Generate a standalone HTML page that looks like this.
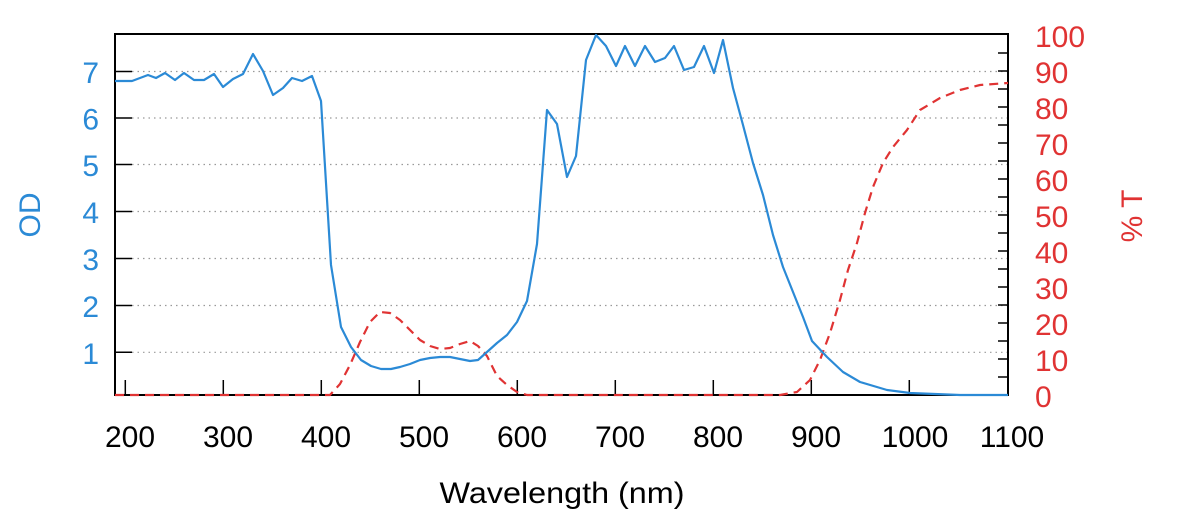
<!DOCTYPE html>
<html><head><meta charset="utf-8"><style>
html,body{margin:0;padding:0;background:#fff;}
svg{display:block;font-family:"Liberation Sans","DejaVu Sans",sans-serif;}
</style></head><body>
<svg width="1200" height="520" viewBox="0 0 1200 520" xmlns="http://www.w3.org/2000/svg">
<g stroke="#999" stroke-width="1.2" stroke-dasharray="1.5,4">
<line x1="132" y1="71.5" x2="1008" y2="71.5"/>
<line x1="132" y1="118" x2="1008" y2="118"/>
<line x1="132" y1="164.5" x2="1008" y2="164.5"/>
<line x1="132" y1="211.5" x2="1008" y2="211.5"/>
<line x1="132" y1="258.5" x2="1008" y2="258.5"/>
<line x1="132" y1="305.5" x2="1008" y2="305.5"/>
<line x1="132" y1="352.3" x2="1008" y2="352.3"/>
</g>
<g stroke="#000" stroke-width="1.5">
<line x1="115" y1="71.5" x2="132" y2="71.5"/>
<line x1="115" y1="118" x2="132" y2="118"/>
<line x1="115" y1="164.5" x2="132" y2="164.5"/>
<line x1="115" y1="211.5" x2="132" y2="211.5"/>
<line x1="115" y1="258.5" x2="132" y2="258.5"/>
<line x1="115" y1="305.5" x2="132" y2="305.5"/>
<line x1="115" y1="352.3" x2="132" y2="352.3"/>
<line x1="125.3" y1="395" x2="125.3" y2="380"/>
<line x1="223.3" y1="395" x2="223.3" y2="380"/>
<line x1="321.3" y1="395" x2="321.3" y2="380"/>
<line x1="419.3" y1="395" x2="419.3" y2="380"/>
<line x1="517.3" y1="395" x2="517.3" y2="380"/>
<line x1="615.3" y1="395" x2="615.3" y2="380"/>
<line x1="713.3" y1="395" x2="713.3" y2="380"/>
<line x1="811.3" y1="395" x2="811.3" y2="380"/>
<line x1="909.3" y1="395" x2="909.3" y2="380"/>
</g>
<g stroke="#000" stroke-width="1.5">
<line x1="998" y1="377" x2="1008" y2="377"/><line x1="998" y1="359" x2="1008" y2="359"/>
<line x1="998" y1="341" x2="1008" y2="341"/><line x1="998" y1="323" x2="1008" y2="323"/>
<line x1="998" y1="305" x2="1008" y2="305"/><line x1="998" y1="287" x2="1008" y2="287"/>
<line x1="998" y1="269" x2="1008" y2="269"/><line x1="998" y1="251" x2="1008" y2="251"/>
<line x1="998" y1="233" x2="1008" y2="233"/><line x1="998" y1="215" x2="1008" y2="215"/>
<line x1="998" y1="197" x2="1008" y2="197"/><line x1="998" y1="179" x2="1008" y2="179"/>
<line x1="998" y1="161" x2="1008" y2="161"/><line x1="998" y1="143" x2="1008" y2="143"/>
<line x1="998" y1="125" x2="1008" y2="125"/><line x1="998" y1="107" x2="1008" y2="107"/>
<line x1="998" y1="89" x2="1008" y2="89"/><line x1="998" y1="71" x2="1008" y2="71"/>
<line x1="998" y1="53" x2="1008" y2="53"/>
</g>
<rect x="115" y="34" width="893" height="361" fill="none" stroke="#000" stroke-width="2"/>
<polyline fill="none" stroke="#e03333" stroke-width="2.2" stroke-dasharray="9,6" stroke-linejoin="round" points="115,395 330,395 340,384 350,365 360,342 370,322 380,312 390,313 400,320 410,330 420,340 430,346 440,349 450,348 460,344 470,341 478,346 487,356 497,376 507,385 517,392 527,395 780,395 797,392 810,380 820,360 830,333 840,300 848,270 857,243 865,213 873,187 883,163 893,147 907,130 920,110 940,98 960,90 980,85 1008,83"/>
<polyline fill="none" stroke="#2b8ad6" stroke-width="2.2" stroke-linejoin="round" points="115,81 132,81 148,75 156,78 165,73 175,80 184,73 194,80 204,80 214,74 223,87 233,79 243,74 253,54 263,71 273,95 283,88 292,78 302,81 312,76 321,101 331,265 341,327 351,347 361,360 371,366 381,369 391,369 400,367 410,364 420,360 430,358 440,357 450,357 460,359 470,361 478,360 487,352 497,343 507,335 517,322 527,301 537,244 547,110 557,124 567,177 576,156 586,60 596,35 606,46 616,66 625,46 635,66 645,46 655,62 665,58 674,46 684,70 694,67 704,46 714,73 723,40 733,88 743,125 753,163 763,195 773,235 783,267 793,292 803,317 812,341 827,357 843,372 860,382 887,390 910,393 960,395 1008,395"/>
<g fill="#2b8ad6" font-size="30" text-anchor="end">
<text x="99" y="83">7</text><text x="99" y="129.5">6</text><text x="99" y="176">5</text>
<text x="99" y="223">4</text><text x="99" y="270">3</text><text x="99" y="317">2</text>
<text x="99" y="364">1</text>
</g>
<text transform="translate(40,215) rotate(-90)" fill="#2b8ad6" font-size="30" text-anchor="middle">OD</text>
<g fill="#e03333" font-size="30" text-anchor="start">
<text x="1035" y="47">100</text><text x="1035" y="83">90</text><text x="1035" y="119">80</text>
<text x="1035" y="155">70</text><text x="1035" y="191">60</text><text x="1035" y="227">50</text>
<text x="1035" y="263">40</text><text x="1035" y="299">30</text><text x="1035" y="335">20</text>
<text x="1035" y="371">10</text><text x="1035" y="407">0</text>
</g>
<text transform="translate(1142,216) rotate(-90)" fill="#e03333" font-size="30" text-anchor="middle">% T</text>
<g fill="#000" font-size="30" text-anchor="middle">
<text x="130" y="447">200</text><text x="228" y="447">300</text><text x="326" y="447">400</text>
<text x="424" y="447">500</text><text x="522" y="447">600</text><text x="620" y="447">700</text>
<text x="718" y="447">800</text><text x="816" y="447">900</text><text x="915" y="447">1000</text>
<text x="1012" y="447">1100</text>
</g>
<text x="562" y="503" fill="#000" font-size="30" text-anchor="middle" textLength="245" lengthAdjust="spacingAndGlyphs">Wavelength (nm)</text>
</svg>
</body></html>
